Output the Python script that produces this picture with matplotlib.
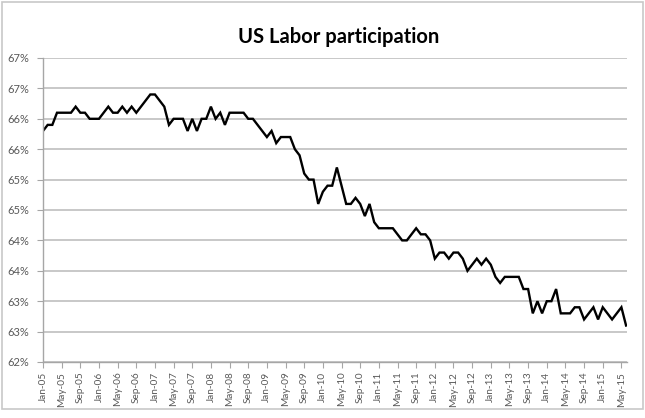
"""US labor force participation rate, monthly, Jan 2005 - Jun 2015."""

import matplotlib
matplotlib.use("Agg")
import matplotlib.pyplot as plt
import numpy as np
import pandas as pd
from matplotlib.patches import Rectangle

plt.rcParams["font.family"] = ["Lato", "DejaVu Sans"]

# Participation rate (%), one list per year.
RATE_2005 = [65.8, 65.9, 65.9, 66.1, 66.1, 66.1, 66.1, 66.2, 66.1, 66.1, 66.0, 66.0]
RATE_2006 = [66.0, 66.1, 66.2, 66.1, 66.1, 66.2, 66.1, 66.2, 66.1, 66.2, 66.3, 66.4]
RATE_2007 = [66.4, 66.3, 66.2, 65.9, 66.0, 66.0, 66.0, 65.8, 66.0, 65.8, 66.0, 66.0]
RATE_2008 = [66.2, 66.0, 66.1, 65.9, 66.1, 66.1, 66.1, 66.1, 66.0, 66.0, 65.9, 65.8]
RATE_2009 = [65.7, 65.8, 65.6, 65.7, 65.7, 65.7, 65.5, 65.4, 65.1, 65.0, 65.0, 64.6]
RATE_2010 = [64.8, 64.9, 64.9, 65.2, 64.9, 64.6, 64.6, 64.7, 64.6, 64.4, 64.6, 64.3]
RATE_2011 = [64.2, 64.2, 64.2, 64.2, 64.1, 64.0, 64.0, 64.1, 64.2, 64.1, 64.1, 64.0]
RATE_2012 = [63.7, 63.8, 63.8, 63.7, 63.8, 63.8, 63.7, 63.5, 63.6, 63.7, 63.6, 63.7]
RATE_2013 = [63.6, 63.4, 63.3, 63.4, 63.4, 63.4, 63.4, 63.2, 63.2, 62.8, 63.0, 62.8]
RATE_2014 = [63.0, 63.0, 63.2, 62.8, 62.8, 62.8, 62.9, 62.9, 62.7, 62.8, 62.9, 62.7]
RATE_2015 = [62.9, 62.8, 62.7, 62.8, 62.9, 62.6]

START_MONTH = "2005-01"

# Excel rounded the half-percent gridlines to whole numbers.
Y_TICKS = [62.0, 62.5, 63.0, 63.5, 64.0, 64.5, 65.0, 65.5, 66.0, 66.5, 67.0]
Y_LABELS = ["62%", "63%", "63%", "64%", "64%", "65%", "65%", "66%", "66%", "67%", "67%"]

TEXT = "#595959"
GRID = "#BFBFBF"


def main():
    rate = np.array(RATE_2005 + RATE_2006 + RATE_2007 + RATE_2008 + RATE_2009
                    + RATE_2010 + RATE_2011 + RATE_2012 + RATE_2013 + RATE_2014
                    + RATE_2015)
    months = pd.date_range(START_MONTH, periods=len(rate), freq="MS")
    x = np.arange(len(rate))

    fig = plt.figure(figsize=(6.45, 4.18), dpi=100)
    ax = fig.add_axes([43 / 645, 56 / 418, 584 / 645, 304 / 418])

    # chart frame
    fig.patches.append(Rectangle((2 / 645, 9 / 418), 641 / 645, 407 / 418,
                                 transform=fig.transFigure, fill=False,
                                 edgecolor="#C8C8C8", linewidth=1.2))

    ax.plot(x, rate, color="black", linewidth=1.7, solid_joinstyle="miter")

    ax.set_xlim(0, len(rate) - 0.8)
    ax.set_ylim(Y_TICKS[0], Y_TICKS[-1])
    ax.set_yticks(Y_TICKS)
    ax.set_yticklabels(Y_LABELS)

    tick_idx = x[::4]
    ax.set_xticks(tick_idx)
    ax.set_xticklabels([months[i].strftime("%b-%y") for i in tick_idx],
                       rotation=90)

    ax.grid(axis="y", color=GRID, linewidth=1.2)
    ax.set_axisbelow(True)
    for side in ("top", "right"):
        ax.spines[side].set_visible(False)
    for side in ("left", "bottom"):
        ax.spines[side].set_color("#A6A6A6")
        ax.spines[side].set_linewidth(1.0)

    ax.tick_params(axis="both", colors="#A6A6A6", labelcolor=TEXT,
                   length=4, width=0.8)
    ax.tick_params(axis="y", pad=6, labelsize=8)
    ax.tick_params(axis="x", pad=3, labelsize=7.2)

    fig.text(339 / 645, 1 - 37 / 418, "US Labor participation", ha="center",
             va="center", fontsize=14.5, fontweight="bold", color="black")

    fig.savefig("out.png", dpi=100)
    plt.close(fig)


if __name__ == "__main__":
    main()
